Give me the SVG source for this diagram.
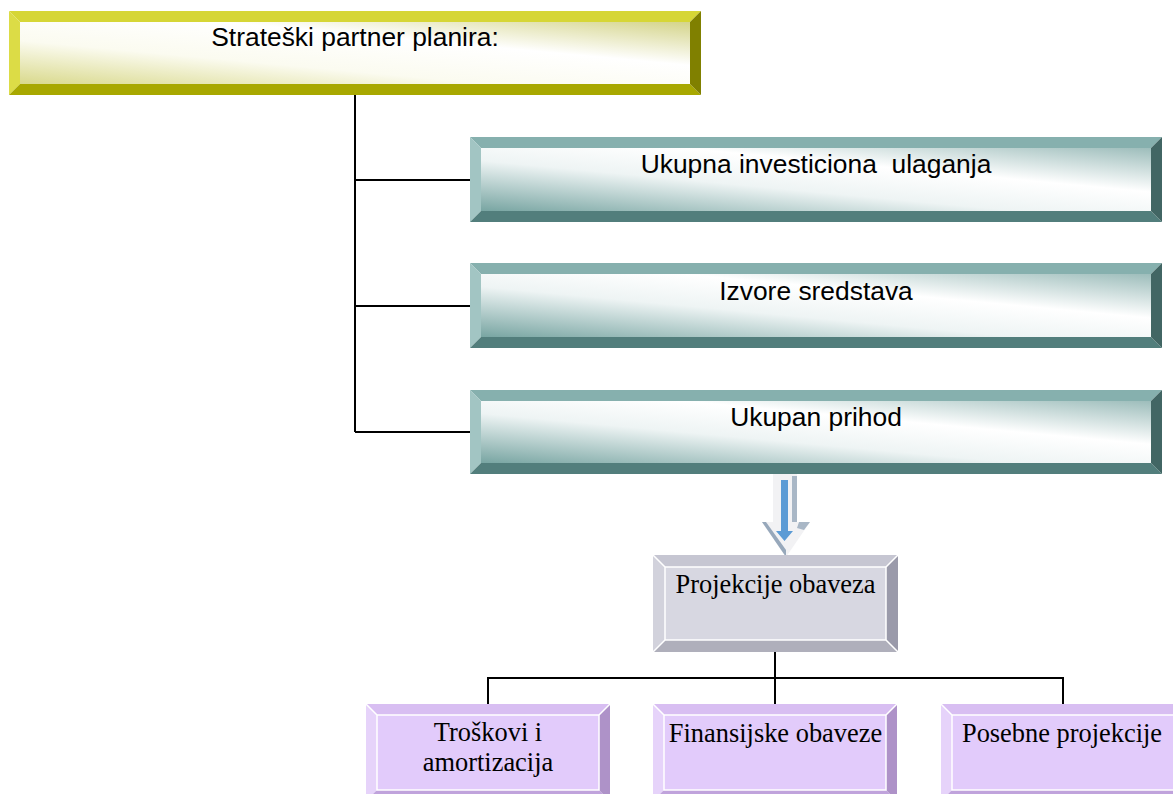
<svg xmlns="http://www.w3.org/2000/svg" width="1173" height="794" viewBox="0 0 1173 794">
  <defs>
    <linearGradient id="faceYellow" x1="0" y1="1" x2="1" y2="0">
      <stop offset="0" stop-color="#d9d98c"/>
      <stop offset="0.35" stop-color="#fbfbf0"/>
      <stop offset="0.65" stop-color="#ffffff"/>
      <stop offset="1" stop-color="#d4d48a"/>
    </linearGradient>
    <linearGradient id="faceTeal" x1="0" y1="1" x2="1" y2="0">
      <stop offset="0" stop-color="#78a5a2"/>
      <stop offset="0.4" stop-color="#eef4f4"/>
      <stop offset="0.65" stop-color="#ffffff"/>
      <stop offset="1" stop-color="#9dbdbb"/>
    </linearGradient>
    <style>
      .sans { font-family: "Liberation Sans", Arial, sans-serif; font-size: 26.4px; fill: #000; text-anchor: middle; }
      .serif { font-family: "Liberation Serif", "Times New Roman", serif; font-size: 26.4px; fill: #000; text-anchor: middle; }
      .wire { stroke: #000; stroke-width: 2; fill: none; }
      .y-top { fill: #d6d636; } .y-left { fill: #dcdc46; } .y-bot { fill: #a8a800; } .y-right { fill: #808000; }
      .t-top { fill: #86b0ae; } .t-left { fill: #a2c5c3; } .t-bot { fill: #527e7c; } .t-right { fill: #426664; }
      .g-top { fill: #c6c6d2; } .g-left { fill: #d2d2dc; } .g-bot { fill: #afafbb; } .g-right { fill: #9a9aaa; } .g-face { fill: #d7d7e1; }
      .p-top { fill: #d8bef2; } .p-left { fill: #e6d3fa; } .p-bot { fill: #c0a3dc; } .p-right { fill: #ae92c8; } .p-face { fill: #e2cbfb; }
      .edge { stroke: #ffffff; stroke-width: 1.5; fill: none; }
    </style>
  </defs>

  <rect width="1173" height="794" fill="#ffffff"/>

  <!-- connectors -->
  <g id="connectors">
    <path class="wire" d="M355 95 V432"/>
    <path class="wire" d="M355 180 H470"/>
    <path class="wire" d="M355 306 H470"/>
    <path class="wire" d="M355 432 H470"/>
    <path class="wire" d="M775 652 V678"/>
    <path class="wire" d="M488 678 H1063"/>
    <path class="wire" d="M488 677 V704"/>
    <path class="wire" d="M775 678 V704"/>
    <path class="wire" d="M1063 677 V704"/>
    <!-- block arrow down -->
    <g id="down-arrow">
      <polygon points="773,474 797,474 797,522 810,522 786,557 762,522 773,522" fill="#f2f2f4"/>
      <polygon points="792,476 797,476 797,522 792,522" fill="#a9b7c6"/>
      <polygon points="799,522 810,522 804,530 797,528" fill="#a9b7c6"/>
      <polygon points="762,522 766,522 786,550 786,557" fill="#97a8bb"/>
      <polygon points="781,480 788,480 788,531 793,531 784.5,541 776,531 781,531" fill="#5b9bd5"/>
    </g>
  </g>

  <!-- top node -->
  <g id="node-strateski">
    <rect x="20" y="22" width="670" height="62" fill="url(#faceYellow)"/>
    <polygon class="y-top" points="9,11 701,11 690,22 20,22"/>
    <polygon class="y-left" points="9,11 20,22 20,84 9,95"/>
    <polygon class="y-bot" points="9,95 20,84 690,84 701,95"/>
    <polygon class="y-right" points="701,11 701,95 690,84 690,22"/>
    <text class="sans" x="355" y="46">Strateški partner planira:</text>
  </g>

  <g id="node-ulaganja">
    <rect x="481" y="148" width="670" height="63" fill="url(#faceTeal)"/>
    <polygon class="t-top" points="470,137 1162,137 1151,148 481,148"/>
    <polygon class="t-left" points="470,137 481,148 481,211 470,222"/>
    <polygon class="t-bot" points="470,222 481,211 1151,211 1162,222"/>
    <polygon class="t-right" points="1162,137 1162,222 1151,211 1151,148"/>
    <text class="sans" x="816" y="173" xml:space="preserve">Ukupna investiciona  ulaganja</text>
  </g>

  <g id="node-izvore">
    <rect x="481" y="274" width="670" height="63" fill="url(#faceTeal)"/>
    <polygon class="t-top" points="470,263 1162,263 1151,274 481,274"/>
    <polygon class="t-left" points="470,263 481,274 481,337 470,348"/>
    <polygon class="t-bot" points="470,348 481,337 1151,337 1162,348"/>
    <polygon class="t-right" points="1162,263 1162,348 1151,337 1151,274"/>
    <text class="sans" x="816" y="300">Izvore sredstava</text>
  </g>

  <g id="node-prihod">
    <rect x="481" y="401" width="670" height="62" fill="url(#faceTeal)"/>
    <polygon class="t-top" points="470,390 1162,390 1151,401 481,401"/>
    <polygon class="t-left" points="470,390 481,401 481,463 470,474"/>
    <polygon class="t-bot" points="470,474 481,463 1151,463 1162,474"/>
    <polygon class="t-right" points="1162,390 1162,474 1151,463 1151,401"/>
    <text class="sans" x="816" y="426">Ukupan prihod</text>
  </g>

  <g id="node-projekcije">
    <rect class="g-face" x="665" y="567" width="221" height="73"/>
    <polygon class="g-top" points="653,555 898,555 886,567 665,567"/>
    <polygon class="g-left" points="653,555 665,567 665,640 653,652"/>
    <polygon class="g-bot" points="653,652 665,640 886,640 898,652"/>
    <polygon class="g-right" points="898,555 898,652 886,640 886,567"/>
    <rect class="edge" x="665" y="567" width="221" height="73"/>
    <path class="edge" d="M653 555 L665 567 M898 555 L886 567 M653 652 L665 640 M898 652 L886 640"/>
    <text class="serif" x="775.5" y="593">Projekcije obaveza</text>
  </g>

  <g id="node-troskovi">
    <rect class="p-face" x="377" y="715" width="222" height="75"/>
    <polygon class="p-top" points="366,704 610,704 599,715 377,715"/>
    <polygon class="p-left" points="366,704 377,715 377,790 366,801"/>
    <polygon class="p-bot" points="366,801 377,790 599,790 610,801"/>
    <polygon class="p-right" points="610,704 610,801 599,790 599,715"/>
    <rect class="edge" x="377" y="715" width="222" height="75"/>
    <path class="edge" d="M366 704 L377 715 M610 704 L599 715"/>
    <text class="serif" x="488" y="741">Troškovi i</text>
    <text class="serif" x="488" y="771">amortizacija</text>
  </g>

  <g id="node-finansijske">
    <rect class="p-face" x="664" y="715" width="222" height="75"/>
    <polygon class="p-top" points="653,704 897,704 886,715 664,715"/>
    <polygon class="p-left" points="653,704 664,715 664,790 653,801"/>
    <polygon class="p-bot" points="653,801 664,790 886,790 897,801"/>
    <polygon class="p-right" points="897,704 897,801 886,790 886,715"/>
    <rect class="edge" x="664" y="715" width="222" height="75"/>
    <path class="edge" d="M653 704 L664 715 M897 704 L886 715"/>
    <text class="serif" x="775.5" y="742">Finansijske obaveze</text>
  </g>

  <g id="node-posebne">
    <rect class="p-face" x="952" y="715" width="222" height="75"/>
    <polygon class="p-top" points="941,704 1185,704 1174,715 952,715"/>
    <polygon class="p-left" points="941,704 952,715 952,790 941,801"/>
    <polygon class="p-bot" points="941,801 952,790 1174,790 1185,801"/>
    <polygon class="p-right" points="1185,704 1185,801 1174,790 1174,715"/>
    <rect class="edge" x="952" y="715" width="222" height="75"/>
    <path class="edge" d="M941 704 L952 715"/>
    <text class="serif" x="1062" y="742">Posebne projekcije</text>
  </g>
</svg>
